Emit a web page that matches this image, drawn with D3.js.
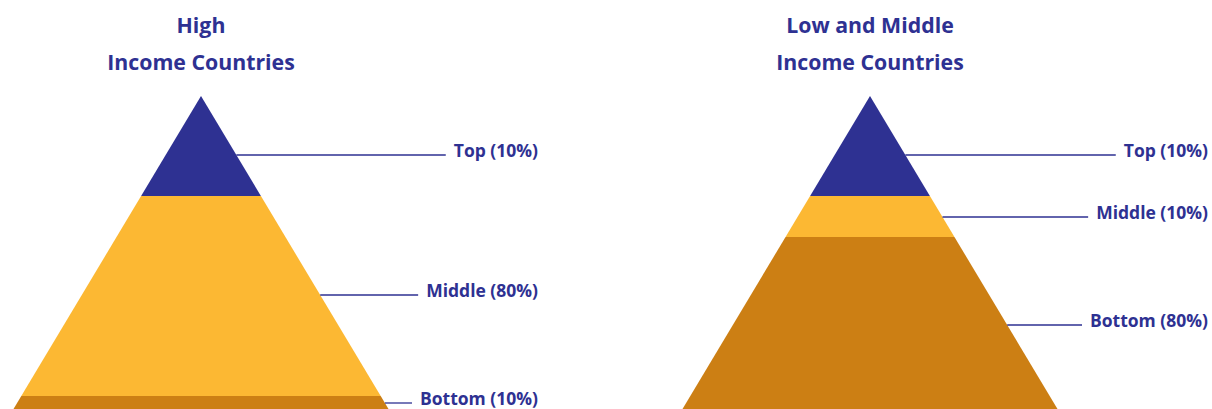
<!DOCTYPE html>
<html><head><meta charset="utf-8">
<script src="https://cdn.jsdelivr.net/npm/d3@7"></script>
<style>body{margin:0;background:#fff;} svg{display:block;}</style>
</head><body>
<svg id="c" width="1212" height="409"></svg>
<script>
// ---- data ----
const groups = ["High Income Countries", "Low and Middle Income Countries"];
const titleLines = [["High", "Income Countries"], ["Low and Middle", "Income Countries"]];
const bands = ["Top", "Middle", "Bottom"];
const sharesHigh = [10, 80, 10];
const sharesLow = [10, 10, 80];
// band depth boundaries (illustrative depth from apex, pyramid units)
const depthHigh = [0, 100, 300, 340];
const depthLow = [0, 100, 141, 340];
// depth at which each leader line meets the pyramid
const leaderHigh = [59, 199, 307];
const leaderLow = [59, 121, 229];
const colors = ["#2e3192", "#fcb833", "#cc7f14"];

const svg = d3.select("#c");
const ink = "#2e3192";
const font = "'Open Sans', Lato, sans-serif";
const depthMax = 313;
const y = d3.scaleLinear().domain([0, depthMax]).range([96, 409]);
const halfW = d3.scaleLinear().domain([0, depthMax]).range([0, 187.5]);
const cxScale = d3.scalePoint().domain(groups).range([201, 870]);
const labelRight = d3.scalePoint().domain(groups).range([538, 1208]);

const sets = [
  {g: groups[0], shares: sharesHigh, depth: depthHigh, leader: leaderHigh, title: titleLines[0]},
  {g: groups[1], shares: sharesLow, depth: depthLow, leader: leaderLow, title: titleLines[1]}
];

sets.forEach(s => {
  const cx = cxScale(s.g);
  const gg = svg.append("g");
  gg.selectAll("text.title").data(s.title).join("text")
    .attr("x", cx).attr("y", (d, i) => 33 + i * 37)
    .attr("text-anchor", "middle")
    .attr("font-family", font)
    .attr("font-weight", 700).attr("font-size", 21.3)
    .attr("fill", ink).text(d => d);
  bands.forEach((b, i) => {
    const d0 = s.depth[i], d1 = s.depth[i + 1];
    const pts = [[cx - halfW(d0), y(d0)], [cx + halfW(d0), y(d0)], [cx + halfW(d1), y(d1)], [cx - halfW(d1), y(d1)]];
    gg.append("path").attr("d", d3.line()(pts) + "Z").attr("fill", colors[i]);
  });
  bands.forEach((b, i) => {
    const dl = s.leader[i];
    const ly = y(dl);
    const t = gg.append("text")
      .attr("x", labelRight(s.g)).attr("y", ly + 2)
      .attr("text-anchor", "end")
      .attr("font-family", font)
      .attr("font-weight", 700).attr("font-size", 17.5)
      .attr("fill", ink).text(`${b} (${s.shares[i]}%)`);
    const w = t.node().getComputedTextLength();
    gg.append("line")
      .attr("x1", cx + halfW(dl)).attr("x2", labelRight(s.g) - w - 8)
      .attr("y1", ly).attr("y2", ly)
      .attr("stroke", ink).attr("stroke-width", 1.3);
  });
});
</script>
</body></html>
